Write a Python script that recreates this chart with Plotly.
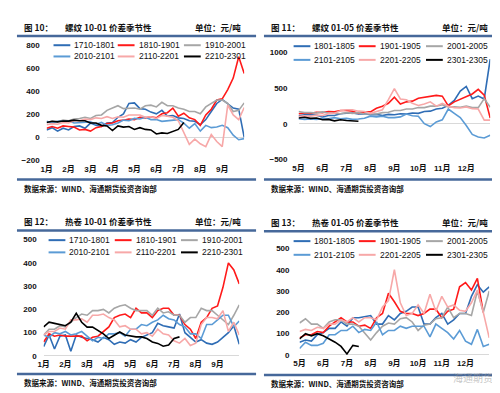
import numpy as np
import plotly.graph_objects as go

W, H = 500, 393

# ---------------- data ----------------
STEP = 0.25  # month step of samples

MONTHS_JAN_SEP = ["1月", "2月", "3月", "4月", "5月", "6月", "7月", "8月", "9月"]
MONTHS_MAY_DEC = ["5月", "6月", "7月", "8月", "9月", "10月", "11月", "12月"]

SERIES_10_01 = ["1710-1801", "1810-1901", "1910-2001", "2010-2101", "2110-2201", "2210-2301"]
SERIES_01_05 = ["1801-1805", "1901-1905", "2001-2005", "2101-2105", "2201-2205", "2301-2305"]

# 图10 螺纹 10-01 (start month 1)
rb1001_1710 = [65, 85, 55, 80, 65, 95, 100, 80, 125, 105, 95, 125, 130, 175, 205, 295, 300, 250, 245, 220,
               205, 235, 185, 190, 170, 165, 145, 140, 110, 155, 225, 295, 330, 295, 255, 245, 0]
rb1001_1810 = [80, 95, 80, 100, 95, 90, 65, 70, 55, 85, 95, 120, 125, 145, 150, 160, 155, 175, 170, 180,
               170, 205, 215, 255, 185, 210, 170, 155, 105, 195, 245, 325, 335, 415, 515, 700, 555]
rb1001_1910 = [130, 140, 135, 150, 145, 160, 165, 175, 165, 190, 195, 235, 255, 275, 250, 255, 255, 245, 275, 280,
               265, 305, 275, 275, 255, 245, 225, 225, 205, 265, 295, 325, 325, 295, 225, 235, 300]
rb1001_2010 = [140, 125, 140, 140, 145, 125, 130, 130, 135, 115, 130, 105, 110, 125, 150, 145, 165, 160, 175, 155,
               155, 140, 145, 145, 155, 125, 80, 120, 55, 105, 85, 90, 105, 85, 20, -20, -10]
rb1001_2110 = [110, 120, 115, 130, 125, 145, 145, 160, 155, 170, 165, 180, 165, 180, 175, 195, 195, 195, 175, 180,
               165, 190, 185, 175, 145, 40, -60, -15, -55, -80, 25, -35, -80, 280, 195, 155, 260]
rb1001_2210 = [130, 140, 135, 143, 142, 150, 145, 145, 125, 125, 105, 100, 60, 100, 90, 95, 70, 85, 70, 65,
               30, 40, 35, 55, 70, 130]

# 图11 螺纹 01-05 (start month 5)
rb0105_1801 = [110, 125, 125, 120, 95, 115, 115, 140, 145, 150, 135, 140, 125, 130, 115, 130, 125, 140, 135, 150,
               145, 170, 175, 205, 215, 255, 325, 455, 520, 350, 385, 345, 900]
rb0105_1901 = [140, 150, 145, 160, 155, 170, 165, 185, 185, 175, 145, 165, 165, 215, 245, 285, 370, 275, 305, 315,
               355, 365, 385, 395, 385, 250, 305, 345, 385, 415, 480, 400, 80]
rb0105_2001 = [170, 155, 155, 150, 165, 145, 145, 140, 155, 145, 155, 135, 135, 135, 155, 160, 185, 185, 205, 205,
               225, 225, 245, 245, 265, 235, 235, 230, 245, 225, 225, 350, 230]
rb0105_2101 = [70, 60, 65, 60, 75, 70, 85, 70, 75, 60, 65, 75, 105, 95, 105, 85, 85, 95, 135, 110,
               105, 0, -40, 25, 55, 205, 145, 85, -25, -150, -185, -200, -160]
rb0105_2201 = [100, 110, 105, 120, 115, 140, 145, 180, 195, 195, 175, 170, 145, 175, 195, 335, 490, 345, 335, 285,
               255, 275, 305, 245, 285, 245, 225, 220, 235, 210, 205, 50, 50]
rb0105_2301 = [80, 90, 75, 80, 55, 60, 40, 55, 45, 40, 35]

# 图12 热卷 10-01 (start month 1)
hc1001_1710 = [40, 90, 30, 85, 90, 20, 90, 80, 75, 70, 60, 80, 70, 50, 60, 55, 70, 60, 80, 90,
               100, 140, 130, 125, 120, 180, 100, 80, 60, 70, 55, 50, 60, 80, 100, 130, 50]
hc1001_1810 = [60, 95, 85, 90, 85, 85, 85, 85, 65, 80, 85, 105, 125, 165, 175, 180, 165, 205, 185, 185,
               165, 195, 205, 205, 175, 175, 135, 115, 75, 145, 165, 205, 215, 295, 400, 370, 310]
hc1001_1910 = [90, 115, 115, 130, 125, 145, 165, 180, 175, 195, 195, 200, 185, 205, 215, 220, 205, 195, 195, 195,
               175, 205, 185, 190, 175, 175, 145, 165, 165, 205, 195, 195, 175, 155, 135, 175, 220]
hc1001_2010 = [90, 80, 100, 95, 105, 90, 95, 105, 85, 65, 80, 75, 95, 95, 100, 85, 115, 115, 135, 130,
               145, 155, 175, 160, 155, 135, 125, 95, 95, 75, 135, 135, 155, 175, 175, 125, 150]
hc1001_2110 = [90, 105, 105, 120, 115, 155, 155, 160, 145, 175, 175, 180, 165, 155, 125, 130, 115, 115, 95, 100,
               85, 115, 95, 90, 65, 55, 75, 45, 55, 135, 165, 165, 160, 195, 105, 145, 90]
hc1001_2210 = [125, 145, 140, 135, 130, 145, 183, 145, 124, 124, 110, 95, 75, 90, 103, 90, 85, 82, 82, 75,
               60, 54, 42, 47, 75, 82]

# 图13 热卷 01-05 (start month 5)
hc0105_1801 = [60, 70, 65, 95, 105, 125, 125, 155, 135, 175, 175, 180, 185, 145, 145, 185, 165, 195, 205, 225,
               225, 145, 145, 175, 195, 145, 165, 195, 195, 275, 330, 295, 320]
hc0105_1901 = [80, 95, 95, 110, 105, 135, 155, 175, 155, 155, 135, 140, 125, 175, 195, 290, 250, 205, 195, 195,
               185, 195, 215, 215, 175, 205, 215, 320, 340, 305, 360, 200]
hc0105_2001 = [150, 170, 145, 145, 125, 155, 165, 165, 145, 145, 135, 105, 70, 105, 135, 150, 145, 170, 175, 155,
               115, 140, 145, 170, 175, 225, 175, 195, 195, 185, 300, 200, 300]
hc0105_2101 = [30, 60, 45, 45, 55, 95, 95, 115, 115, 135, 105, 120, 115, 155, 95, 115, 115, 135, 125, 135,
               135, 135, 85, 145, 125, 105, 75, 115, 65, 50, 120, 40, 50]
hc0105_2201 = [110, 120, 115, 130, 125, 145, 145, 165, 155, 175, 155, 175, 175, 165, 225, 255, 400, 245, 185, 195,
               235, 195, 285, 205, 275, 225, 235, 210, 205, 245, 305, 200, 80]
hc0105_2301 = [75, 100, 90, 100, 90, 75, 60, 40, 5, 45, 40]

# ---------------- styles ----------------
COLORS = ["#2f6db5", "#ff1a1a", "#a6a6a6", "#5b9bd5", "#f7a8a8", "#000000"]
RULE = "#46689a"
CJK = "Noto Sans CJK SC"
LAT = "Liberation Sans, Arial, Noto Sans CJK SC"


def X(px):
    return px / W


def Y(py):
    return 1 - py / H


panels = [
    dict(ax="", start=1, series=SERIES_10_01,
         data=[rb1001_1710, rb1001_1810, rb1001_1910, rb1001_2010, rb1001_2110, rb1001_2210],
         xr=[1, 10], xpx=(33, 233), yr=[-200, 800], ypx=(34, 152), dtick=200,
         ticks=list(range(1, 10)), labels=MONTHS_JAN_SEP, standoff=6,
         num="图 10：", title="螺纹 10-01 价差季节性", ox=0, oy=0,
         leg_rows=(34, 45.5), leg_cols=((40, 57, 59), (105, 122, 124), (172, 189, 191))),
    dict(ax="2", start=5, series=SERIES_01_05,
         data=[rb0105_1801, rb0105_1901, rb0105_2001, rb0105_2101, rb0105_2201, rb0105_2301],
         xr=[5, 13], xpx=(288, 482), yr=[-500, 1000], ypx=(41, 151), dtick=500,
         ticks=list(range(5, 13)), labels=MONTHS_MAY_DEC, standoff=10,
         num="图 11：", title="螺纹 01-05 价差季节性", ox=250, oy=0,
         leg_rows=(35, 49), leg_cols=((283, 300, 302), (349, 366, 368), (417, 434, 436))),
    dict(ax="3", start=1, series=SERIES_10_01,
         data=[hc1001_1710, hc1001_1810, hc1001_1910, hc1001_2010, hc1001_2110, hc1001_2210],
         xr=[1, 10], xpx=(30, 228), yr=[0, 500], ypx=(233, 352), dtick=100,
         ticks=list(range(1, 10)), labels=MONTHS_JAN_SEP, standoff=6,
         num="图 12：", title="热卷 10-01 价差季节性", ox=0, oy=199,
         leg_rows=(233.5, 246), leg_cols=((35, 52, 54), (102, 119, 121), (169, 186, 188))),
    dict(ax="4", start=5, series=SERIES_01_05,
         data=[hc0105_1801, hc0105_1901, hc0105_2001, hc0105_2101, hc0105_2201, hc0105_2301],
         xr=[5, 13], xpx=(289, 481), yr=[0, 500], ypx=(242, 351), dtick=100,
         ticks=list(range(5, 13)), labels=MONTHS_MAY_DEC, standoff=9,
         num="图 13：", title="热卷 01-05 价差季节性", ox=250, oy=200,
         leg_rows=(234.5, 248.5), leg_cols=((283, 300, 302), (349, 366, 368), (417, 434, 436))),
]

fig = go.Figure()
layout = dict(width=W, height=H, margin=dict(l=0, r=0, t=0, b=0),
              paper_bgcolor="white", plot_bgcolor="white", showlegend=False)
shapes, annotations = [], []

for p in panels:
    xa, ya = "x" + p["ax"], "y" + p["ax"]
    for name, vals, col in zip(p["series"], p["data"], COLORS):
        xs = p["start"] + STEP * np.arange(len(vals))
        fig.add_trace(go.Scatter(x=xs, y=vals, mode="lines", name=name,
                                 line=dict(color=col, width=1.6), xaxis=xa, yaxis=ya,
                                 hoverinfo="skip"))
    layout["xaxis" + p["ax"]] = dict(
        domain=[X(p["xpx"][0]), X(p["xpx"][1])], range=p["xr"], anchor=ya,
        tickvals=p["ticks"], ticktext=p["labels"], showgrid=False, zeroline=False,
        showline=False, ticks="", ticklabelstandoff=2,
        tickfont=dict(family=LAT, size=8, color="#111", weight="bold"))
    layout["yaxis" + p["ax"]] = dict(
        domain=[Y(p["ypx"][1]), Y(p["ypx"][0])], range=p["yr"], anchor=xa,
        dtick=p["dtick"], showgrid=False, zeroline=True, zerolinecolor="#d9d9d9",
        zerolinewidth=1, showline=False, ticks="", ticklabelstandoff=p["standoff"],
        tickfont=dict(family=LAT, size=8, color="#111", weight="bold"))

    ox, oy = p["ox"], p["oy"]
    # title row
    annotations.append(dict(text=p["num"], x=X(ox + 8), y=Y(oy + 15), xref="paper", yref="paper",
                            xanchor="left", yanchor="middle", showarrow=False,
                            font=dict(family=CJK, size=8.5, color="#111", weight="bold")))
    annotations.append(dict(text=p["title"], x=X(ox + 50), y=Y(oy + 15), xref="paper", yref="paper",
                            xanchor="left", yanchor="middle", showarrow=False,
                            font=dict(family=CJK, size=8.5, color="#111", weight="bold")))
    annotations.append(dict(text="单位：元/吨", x=X(ox + 181), y=Y(oy + 15), xref="paper", yref="paper",
                            xanchor="left", yanchor="middle", showarrow=False,
                            font=dict(family=CJK, size=8.5, color="#111", weight="bold")))
    annotations.append(dict(text="数据来源：WIND、海通期货投资咨询部", x=X(ox + 8), y=Y(oy + 180.5),
                            xref="paper", yref="paper", xanchor="left", yanchor="middle", showarrow=False,
                            font=dict(family=CJK, size=7.5, color="#111", weight="bold")))
    # rules
    for ry in (oy + 24.5, oy + 171.5):
        shapes.append(dict(type="line", xref="paper", yref="paper", x0=X(ox + 3), x1=X(ox + 245),
                           y0=Y(ry), y1=Y(ry), line=dict(color=RULE, width=2.5)))
    # legend
    for k, (name, col) in enumerate(zip(p["series"], COLORS)):
        r, c = divmod(k, 3)
        ly = p["leg_rows"][r]
        lx0, lx1, tx = p["leg_cols"][c]
        shapes.append(dict(type="line", xref="paper", yref="paper", x0=X(lx0), x1=X(lx1),
                           y0=Y(ly), y1=Y(ly), line=dict(color=col, width=2)))
        annotations.append(dict(text=name, x=X(tx), y=Y(ly), xref="paper", yref="paper",
                                xanchor="left", yanchor="middle", showarrow=False,
                                font=dict(family=LAT, size=8.5, color="#111")))

annotations.append(dict(text="海通期货", x=X(442), y=Y(374), xref="paper", yref="paper",
                        xanchor="left", yanchor="middle", showarrow=False,
                        font=dict(family=CJK, size=10, color="rgba(150,150,150,0.55)")))

layout["shapes"] = shapes
layout["annotations"] = annotations
fig.update_layout(**layout)
fig.write_html("out.html")
